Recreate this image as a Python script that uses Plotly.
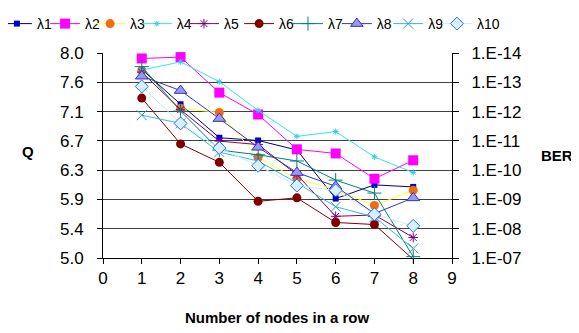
import plotly.graph_objects as go

nodes = [1, 2, 3, 4, 5, 6, 7, 8]
lam1 = [7.76, 7.25, 6.76, 6.72, 6.58, 5.87, 6.07, 6.04]
lam2 = [7.92, 7.94, 7.42, 7.10, 6.59, 6.53, 6.16, 6.43]
lam3 = [7.74, 7.19, 7.13, 6.47, 6.16, 6.00, 5.77, 5.99]
lam4 = [7.75, 7.87, 7.58, 7.16, 6.78, 6.85, 6.48, 6.25]
lam5 = [7.72, 7.17, 6.71, 6.66, 6.22, 5.61, 5.63, 5.30]
lam6 = [7.34, 6.67, 6.40, 5.83, 5.88, 5.52, 5.49, 4.98]
lam7 = [7.80, 7.15, 6.58, 6.51, 6.42, 6.14, 5.95, 5.02]
lam8 = [7.66, 7.45, 7.04, 6.62, 6.25, 6.05, 5.65, 5.88]
lam9 = [7.09, 6.97, 6.55, 6.42, 6.10, 5.75, 5.60, 5.14]
lam10 = [7.51, 6.97, 6.61, 6.35, 6.06, 5.99, 5.64, 5.47]

q_tick_labels = ["5.0", "5.4", "5.9", "6.3", "6.7", "7.1", "7.6", "8.0"]
ber_tick_labels = ["1.E-07", "1.E-08", "1.E-09", "1.E-10", "1.E-11", "1.E-12", "1.E-13", "1.E-14"]
x_tick_labels = ["0", "1", "2", "3", "4", "5", "6", "7", "8", "9"]

q_min, q_max = 5.0, 8.0
n = len(q_tick_labels) - 1
q_tickvals = [q_min + k * (q_max - q_min) / n for k in range(n + 1)]

series = [
    ("λ1", lam1, "#000080", dict(symbol="square", size=6, color="#0000CC", line=dict(width=0))),
    ("λ2", lam2, "#FF00FF", dict(symbol="square", size=10, color="#FF00FF", line=dict(width=0))),
    ("λ3", lam3, "#FFFF33", dict(symbol="circle", size=9, color="#F26B0F", line=dict(width=0))),
    ("λ4", lam4, "#33E6F0", dict(symbol="asterisk-open", size=5, color="#33CCE6", line=dict(width=1, color="#33CCE6"))),
    ("λ5", lam5, "#800080", dict(symbol="asterisk-open", size=8, color="#800080", line=dict(width=1, color="#800080"))),
    ("λ6", lam6, "#800000", dict(symbol="circle", size=9, color="#800000", line=dict(width=0))),
    ("λ7", lam7, "#008080", dict(symbol="cross-thin-open", size=10, color="#008080", line=dict(width=1, color="#008080"))),
    ("λ8", lam8, "#3333CC", dict(symbol="triangle-up", size=11, color="#9999E6", line=dict(width=1, color="#3333CC"))),
    ("λ9", lam9, "#33BBDD", dict(symbol="x-thin-open", size=10, color="#3399CC", line=dict(width=1, color="#3399CC"))),
    ("λ10", lam10, "#BFF2F7", dict(symbol="diamond", size=10, color="#D5F3FF", line=dict(width=1, color="#3366FF"))),
]

# horizontal position (paper fraction) of each legend entry
legend_x = [-0.304, -0.166, -0.037, 0.097, 0.232, 0.390, 0.530, 0.670, 0.817, 0.957]

font = "Arial, Liberation Sans, sans-serif"
fig = go.Figure()
legend_layouts = {}
for i, (name, vals, lc, mk) in enumerate(series):
    key = "legend" if i == 0 else f"legend{i + 1}"
    fig.add_trace(go.Scatter(
        x=nodes, y=vals, name=name, mode="lines+markers",
        line=dict(color=lc, width=1), marker=mk, cliponaxis=False,
        legend=key,
    ))
    legend_layouts[key] = dict(
        orientation="h", x=legend_x[i], xanchor="left", y=1.2195, yanchor="top",
        font=dict(size=14, family=font), itemwidth=30,
        bgcolor="rgba(0,0,0,0)",
    )

# secondary axis holder (BER scale)
fig.add_trace(go.Scatter(x=[None], y=[None], yaxis="y2", showlegend=False, hoverinfo="skip"))

fig.update_layout(
    width=571, height=325,
    margin=dict(l=95, r=127, t=45, b=75, autoexpand=False),
    paper_bgcolor="white", plot_bgcolor="white",
    font=dict(family=font, color="black", size=17),
    showlegend=True,
    xaxis=dict(
        range=[0, 9], tickvals=list(range(10)), ticktext=x_tick_labels,
        showgrid=False, zeroline=False, showline=True, linecolor="black", linewidth=1,
        ticks="outside", ticklen=5, tickcolor="black", automargin=False,
        tickfont=dict(size=17),
    ),
    yaxis=dict(
        range=[q_min, q_max], tickvals=q_tickvals, ticktext=q_tick_labels,
        showgrid=True, gridcolor="#404040", gridwidth=1, zeroline=False,
        showline=True, linecolor="black", linewidth=1, automargin=False,
        ticks="outside", ticklen=5, tickcolor="black", ticklabelstandoff=10,
        tickfont=dict(size=17),
    ),
    yaxis2=dict(
        range=[q_min, q_max], tickvals=q_tickvals, ticktext=ber_tick_labels,
        overlaying="y", side="right", showgrid=False, zeroline=False,
        showline=True, linecolor="black", linewidth=1, automargin=False,
        ticks="outside", ticklen=6, tickcolor="black", ticklabelstandoff=9,
        tickfont=dict(size=17),
    ),
    annotations=[
        dict(text="<b>Q</b>", xref="paper", yref="paper", x=-0.215, y=0.52,
             xanchor="center", yanchor="middle", showarrow=False, font=dict(size=15)),
        dict(text="<b>BER</b>", xref="paper", yref="paper", x=1.30, y=0.50,
             xanchor="center", yanchor="middle", showarrow=False, font=dict(size=15)),
        dict(text="<b>Number of nodes in a row</b>", xref="paper", yref="paper", x=0.5, y=-0.29,
             xanchor="center", yanchor="middle", showarrow=False, font=dict(size=15)),
    ],
)
fig.update_layout(**legend_layouts)

fig.write_html("out.html")
